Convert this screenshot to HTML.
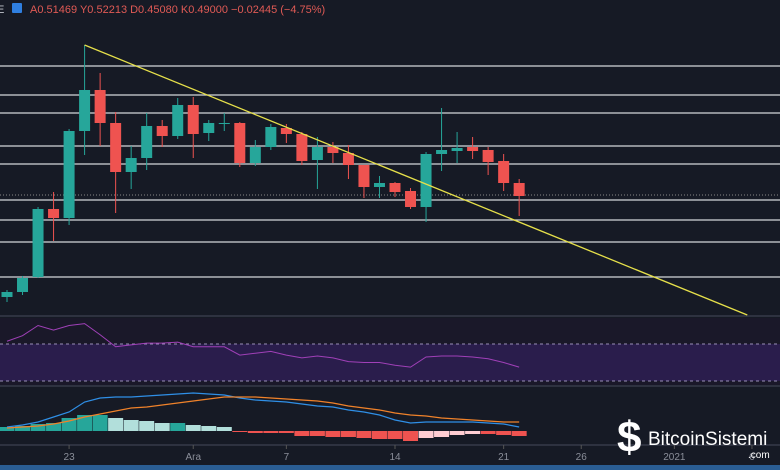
<!DOCTYPE html>
<html><head><meta charset="utf-8"><style>
html,body{margin:0;padding:0;background:#161a25;width:780px;height:470px;overflow:hidden;font-family:"Liberation Sans",sans-serif}
svg{display:block}
</style></head><body>
<svg id="c" width="780" height="470">
<rect x="0" y="0" width="780" height="470" fill="#161a25"/>
<rect x="0" y="318" width="780" height="67" fill="#1a1829"/>
<rect x="0" y="344" width="780" height="37" fill="#2a1d4c"/>
<line x1="0" y1="344" x2="780" y2="344" stroke="#9a8fb8" stroke-dasharray="3,3"/>
<line x1="0" y1="381" x2="780" y2="381" stroke="#9a8fb8" stroke-dasharray="3,3"/>
<line x1="0" y1="316" x2="780" y2="316" stroke="#2e3240" stroke-width="2"/>
<line x1="0" y1="386" x2="780" y2="386" stroke="#2e3240" stroke-width="2"/>
<line x1="0" y1="445" x2="780" y2="445" stroke="#2e3240" stroke-width="2"/>
<rect x="0" y="465" width="780" height="5" fill="#2a5d93"/>
<g id="levels"></g><g id="candles"></g><g id="ind"></g><g id="axis"></g>
<text x="-3" y="13" fill="#c0c4cc" font-size="11">E</text>
<rect x="12" y="3" width="10" height="10" rx="1" fill="#2f7fe0"/>
<text x="30" y="13" fill="#e05a55" font-size="11">A0.51469  Y0.52213  D0.45080  K0.49000  −0.02445 (−4.75%)</text>
<g>
<text x="617" y="452" fill="#fff" font-size="44" font-weight="bold">$</text>
<text x="648" y="445" fill="#fff" font-size="19">BitcoinSistemi</text>
<text x="748" y="458" fill="#fff" font-size="10">.com</text>
</g>
</svg>
<script>
const opens=[.388,.393,.408,.476,.467,.554,.595,.562,.513,.527,.559,.549,.580,.552,.562,.562,.522,.538,.557,.551,.525,.538,.532,.520,.498,.502,.494,.478,.531,.534,.538,.535,.524,.502];
const closes=[.393,.407,.476,.467,.554,.595,.562,.513,.527,.559,.549,.580,.551,.562,.562,.522,.538,.558,.551,.524,.538,.532,.520,.498,.502,.493,.478,.531,.535,.537,.534,.523,.502,.489];
const highs=[.395,.409,.478,.493,.556,.640,.612,.573,.539,.572,.565,.587,.588,.565,.572,.563,.545,.561,.561,.553,.548,.543,.540,.520,.509,.503,.497,.533,.577,.553,.548,.538,.531,.506];
const lows=[.383,.390,.407,.444,.460,.530,.539,.472,.496,.515,.538,.546,.527,.544,.554,.518,.519,.535,.542,.520,.496,.522,.506,.487,.487,.488,.476,.463,.514,.522,.526,.510,.494,.469];
const levels=[.619,.590,.572,.539,.521,.485,.465,.443,.408];
const lastPrice=.490;
const trendStart=[5,.640];
const trendEnd=[47.7,.370];
const rsi=[73,79,90,85,90,92,80,67,69,71,71,72,67,67,67,58,60,62,58,55,57,55,51,50,50,47,45,56,57,57,56,54,50,45];
const macd=[4,6,9,14,19,29,33,34,34,35,36,37,38,37,36,33,31,30,29,27,25,24,21,19,16,11,8,9,9,9,9,8,7,4];
const signal=[3,4,5,7,10,14,17,20,23,24,26,28,30,32,34,34,34,33,32,31,30,28,25,23,21,18,16,15,13,12,11,10,9,9];
const hist=[4,5,7,8,13,16,16,13,11,10,8,8,6,5,4,-1,-2,-2,-2,-5,-5,-6,-6,-7,-8,-8,-10,-7,-6,-4,-3,-3,-4,-5];
const tickLabels=["23","Ara","7","14","21","26","2021","6"];
const tickIdx=[4,12,18,25,32,37,43,48];

const NS="http://www.w3.org/2000/svg";
const X=i=>7+i*15.52;
const Y=p=>(0.685-p)*1000;
const RY=v=>344+(70-v)*0.925;
const MY=v=>431-v;
function mk(t,a,parent){const e=document.createElementNS(NS,t);for(const k in a)e.setAttribute(k,a[k]);document.getElementById(parent).appendChild(e);return e;}

levels.forEach(l=>{const e=mk('line',{x1:0,x2:780,y1:Y(l),y2:Y(l),stroke:'#d4d6da','stroke-width':1.3},'levels');

});
const lp=mk('line',{x1:0,x2:780,y1:Y(lastPrice),y2:Y(lastPrice),stroke:'#888','stroke-dasharray':'1,2'},'levels');



opens.forEach((o,i)=>{const c=closes[i];const col=c>=o?'#26a69a':'#ef5350';
const w=mk('line',{x1:X(i),x2:X(i),y1:Y(highs[i]),y2:Y(lows[i]),stroke:col,'stroke-width':1},'candles');


const top=Y(Math.max(o,c)),h=Math.max(1,Math.abs(Y(o)-Y(c)));
const b=mk('rect',{x:X(i)-5.5,y:top,width:11,height:h,fill:col},'candles');

});

const tl=mk('line',{x1:X(trendStart[0]),y1:Y(trendStart[1]),x2:X(trendEnd[0]),y2:Y(trendEnd[1]),stroke:'#e6e04a','stroke-width':1.3},'candles');



const rp=mk('polyline',{points:rsi.map((v,i)=>X(i)+','+RY(v)).join(' '),fill:'none',stroke:'#a040b8','stroke-width':1},'ind');



hist.forEach((v,i)=>{const prev=i?hist[i-1]:0;let col;
if(v>=0)col=v>=prev?'#26a69a':'#b2dfdb';else col=v<=prev?'#ef5350':'#ffcdd2';
const y1=Math.min(MY(v),MY(0)),h=Math.max(1,Math.abs(MY(v)-MY(0)));
const r=mk('rect',{x:X(i)-7.5,y:y1,width:15,height:h,fill:col},'ind');

});
const ml=mk('polyline',{points:macd.map((v,i)=>X(i)+','+MY(v)).join(' '),fill:'none',stroke:'#2f8fe6','stroke-width':1.2},'ind');


const sl=mk('polyline',{points:signal.map((v,i)=>X(i)+','+MY(v)).join(' '),fill:'none',stroke:'#f0822a','stroke-width':1.2},'ind');



tickLabels.forEach((t,k)=>{const x=X(tickIdx[k]);
const tk=mk('line',{x1:x,x2:x,y1:445,y2:449,stroke:'#555'},'axis');


const e=mk('text',{x:x,y:460,fill:'#8a8e99','font-size':10,'text-anchor':'middle'},'axis');e.textContent=t;

});
</script>
</body></html>
